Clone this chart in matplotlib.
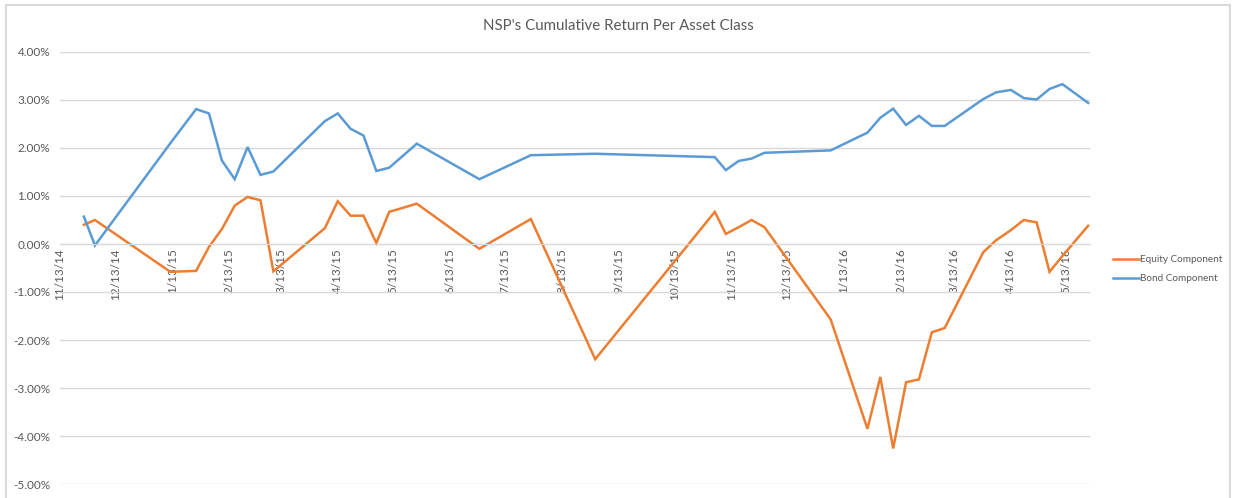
import matplotlib
matplotlib.use('agg')

from matplotlib import pyplot as plt
from matplotlib.patches import Rectangle
import matplotlib.dates as mdates
import numpy as np
import datetime as dt

plt.rcParams['font.family'] = ['Lato', 'DejaVu Sans']

dates = ["2014-11-26", "2014-12-02", "2015-01-12", "2015-01-26", "2015-02-02", "2015-02-09",
         "2015-02-16", "2015-02-23", "2015-03-02", "2015-03-09", "2015-04-06", "2015-04-13",
         "2015-04-20", "2015-04-27", "2015-05-04", "2015-05-11", "2015-05-26", "2015-06-29",
         "2015-07-27", "2015-08-31", "2015-11-04", "2015-11-10", "2015-11-17", "2015-11-24",
         "2015-12-01", "2016-01-06", "2016-01-26", "2016-02-02", "2016-02-09", "2016-02-16",
         "2016-02-23", "2016-03-01", "2016-03-08", "2016-03-29", "2016-04-05", "2016-04-13",
         "2016-04-20", "2016-04-27", "2016-05-04", "2016-05-11", "2016-05-25"]

# cumulative returns, in percent
equity = [0.40, 0.50, -0.58, -0.56, -0.06, 0.31, 0.80, 0.98, 0.91, -0.57, 0.33, 0.89,
          0.59, 0.59, 0.02, 0.67, 0.84, -0.10, 0.52, -2.40, 0.67, 0.21, 0.35, 0.50,
          0.35, -1.57, -3.85, -2.77, -4.26, -2.88, -2.82, -1.84, -1.75, -0.17, 0.08, 0.29,
          0.50, 0.45, -0.58, -0.25, 0.38]
bond = [0.57, -0.03, 2.10, 2.81, 2.72, 1.74, 1.35, 2.02, 1.44, 1.51, 2.56, 2.72,
        2.40, 2.26, 1.52, 1.59, 2.09, 1.35, 1.85, 1.88, 1.81, 1.54, 1.73, 1.78,
        1.90, 1.95, 2.32, 2.63, 2.82, 2.48, 2.67, 2.46, 2.46, 3.02, 3.16, 3.21,
        3.04, 3.01, 3.23, 3.33, 2.94]

title = "NSP's Cumulative Return Per Asset Class"
x = [dt.datetime.strptime(d, "%Y-%m-%d") for d in dates]

grey = '#595959'
fig = plt.figure(figsize=(12.33, 4.98), dpi=100)
ax = fig.add_axes([60 / 1233, 1 - 484 / 498, (1090 - 60) / 1233, (484 - 52) / 498])

ax.plot(x, equity, color='#ED7D31', lw=1.8, label='Equity Component', solid_joinstyle='miter')
ax.plot(x, bond, color='#5B9BD5', lw=1.8, label='Bond Component', solid_joinstyle='miter')

ax.set_ylim(-5, 4)
ax.set_yticks(np.arange(-5, 5, 1))
ax.yaxis.set_major_formatter(matplotlib.ticker.FuncFormatter(lambda v, p: f"{v:.2f}%"))
ax.set_xlim(dt.datetime(2014, 11, 13), dt.datetime(2016, 5, 26))
ax.xaxis.set_major_locator(mdates.MonthLocator(bymonthday=13))
ax.xaxis.set_major_formatter(matplotlib.ticker.FuncFormatter(
    lambda v, p: (lambda d: f"{d.month}/{d.day}/{d.strftime('%y')}")(mdates.num2date(v))))

ax.grid(axis='y', color='#d9d9d9', lw=1)
ax.set_axisbelow(True)
for side in ["left", "top", "right"]:
    ax.spines[side].set_visible(False)
ax.spines['bottom'].set_position(('data', 0))
ax.spines['bottom'].set_color('#d9d9d9')
ax.tick_params(axis='both', length=0, colors=grey, labelsize=8.5)
ax.tick_params(axis='y', pad=7)
ax.tick_params(axis='x', pad=3)
for lab in ax.get_xticklabels():
    lab.set_rotation(90)

fig.text(618 / 1233, 1 - 26 / 498, title, ha='center', va='center', fontsize=10.8, color=grey)

ax.legend(loc='center left', bbox_to_anchor=(1104 / 1233, 1 - 269 / 498),
          bbox_transform=fig.transFigure, frameon=False, fontsize=7.2,
          handlelength=2.6, handletextpad=0.1, labelspacing=1.0, labelcolor=grey)

fig.patches.append(Rectangle((6 / 1233, -0.02), (1230 - 6) / 1233, 1.02 - 5 / 498,
                             transform=fig.transFigure, fill=False,
                             edgecolor='#d9d9d9', lw=1.5))

plt.savefig('out.png', dpi=100)
